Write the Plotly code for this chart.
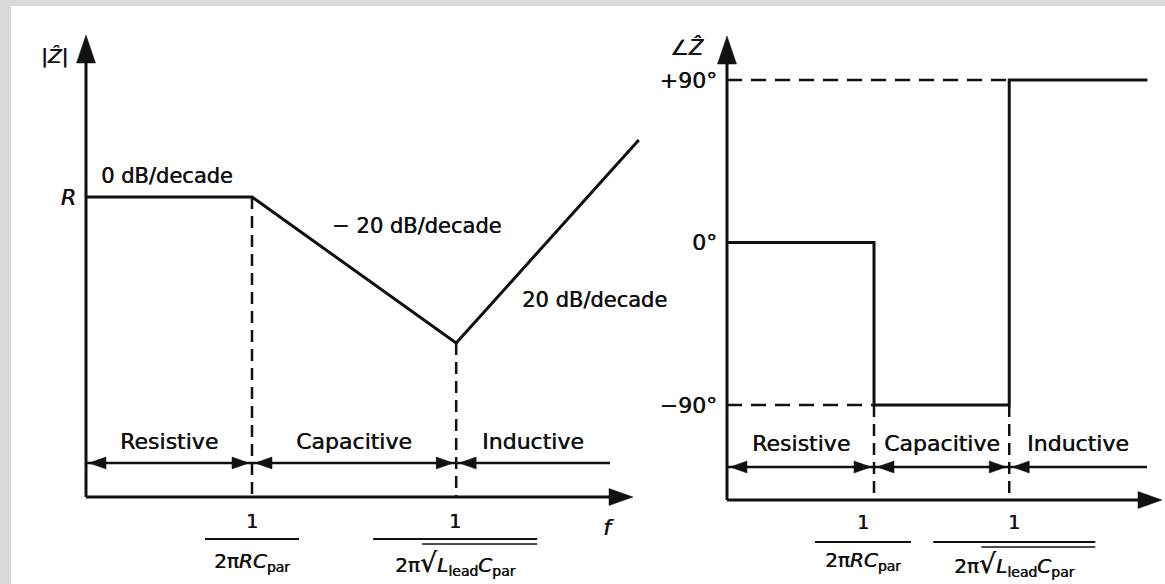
import plotly.graph_objects as go

W, H = 1165, 584
INK = "#111111"
FONT = "DejaVu Sans"
SHADOW = "0.5px 0px 0px #111111"

# ---------------- data ----------------
# Left panel: |Z| asymptotes. Frequency in relative (log) units, level in relative units.
mag_freq = [0.0, 1.0, 2.23, 3.33]
mag_level = [3.0, 3.0, 1.54, 3.57]
mag_tick_vals = [3.0]
mag_tick_text = ["<i>R</i>"]
slope_text = ["0 dB/decade", "\u2212 20 dB/decade", "20 dB/decade"]

# Right panel: phase of Z (degrees) vs relative frequency
phase_freq = [0.0, 1.0, 1.0, 1.92, 1.92, 2.86]
phase_deg = [0, 0, -90, -90, 90, 90]
phase_tick_vals = [90, 0, -90]
phase_tick_text = ["+90\u00b0", "0\u00b0", "\u221290\u00b0"]

region_names = ["Resistive", "Capacitive", "Inductive"]
den_rc = "2\u03c0<i>RC</i><sub>par</sub>"
den_lc = ("2\u03c0<span style='font-size:27px'>\u221a</span>"
          "<i>L</i><sub>lead</sub><i>C</i><sub>par</sub>")

# ---------------- panel geometry (pixels) ----------------
L_X0, L_XU = 86, 166          # left: pixel of f=0, pixels per unit
L_Y0, L_YU = 497, 100         # left: pixel of level 0, pixels per unit
R_X0, R_XU = 727, 147         # right: pixel of f=0, pixels per unit
R_P90, R_M90 = 80, 405        # right: pixels of +90 and -90 degrees
R_ZP = (R_P90 + R_M90) / 2
R_K = 180.0 / (R_M90 - R_P90)  # degrees per pixel


def lx(px):
    return (px - L_X0) / L_XU


def ly(py):
    return (L_Y0 - py) / L_YU


def rx(px):
    return (px - R_X0) / R_XU


def ry(py):
    return (R_ZP - py) * R_K


def fy(py):
    return 1 - py / H


def fx(px):
    return px / W


shapes = []


def seg(x0, y0, x1, y1, xref, yref, width=3, dash=None):
    line = dict(color=INK, width=width)
    if dash:
        line["dash"] = dash
    shapes.append(dict(type="line", xref=xref, yref=yref, x0=x0, y0=y0, x1=x1, y1=y1,
                       line=line, layer="above"))


def head(xa, ya, xref, yref, d, length, width, offset=0.0):
    dx, dy = {"up": (0, 1), "right": (1, 0), "left": (-1, 0)}[d]
    nx, ny = -dy, dx
    tx, ty = dx * offset, dy * offset
    bx, by = tx - dx * length, ty - dy * length
    hw = width / 2
    p = (f"M{tx:.2f},{ty:.2f} L{bx + nx * hw:.2f},{by + ny * hw:.2f} "
         f"L{bx - nx * hw:.2f},{by - ny * hw:.2f} Z")
    shapes.append(dict(type="path", xref=xref, yref=yref, xsizemode="pixel", ysizemode="pixel",
                       xanchor=xa, yanchor=ya, path=p, fillcolor=INK,
                       line=dict(color=INK, width=0.5), layer="above"))


# background: grey frame at left/top, white page
shapes.append(dict(type="rect", xref="paper", yref="paper", x0=fx(11), x1=1, y0=0, y1=fy(6),
                   fillcolor="white", line=dict(width=0), layer="below"))

# ---- left panel axes ----
seg(0, 0, 0, ly(35 + 20), "x", "y")
head(0, ly(35), "x", "y", "up", 28, 19)
seg(0, 0, lx(633 - 16), 0, "x", "y")
head(lx(633), 0, "x", "y", "right", 24, 17)

# ---- right panel axes ----
r_floor = ry(500)
seg(0, r_floor, 0, ry(36 + 20), "x2", "y2")
head(0, ry(36), "x2", "y2", "up", 28, 19)
seg(0, r_floor, rx(1162 - 16), r_floor, "x2", "y2")
head(rx(1162), r_floor, "x2", "y2", "right", 24, 17)

# ---- dashed guides ----
for i in (1, 2):
    seg(mag_freq[i], mag_level[i], mag_freq[i], 0, "x", "y", width=2.5, dash="12px,7px")
r_breaks = [phase_freq[1], phase_freq[3]]
seg(0, phase_deg[4], r_breaks[1], phase_deg[4], "x2", "y2", width=2.5, dash="15px,9px")
seg(0, phase_deg[2], r_breaks[0], phase_deg[2], "x2", "y2", width=2.5, dash="15px,9px")
for b in r_breaks:
    seg(b, phase_deg[2], b, r_floor, "x2", "y2", width=2.5, dash="12px,7px")


# ---- region arrows ----
def region_row(xs, xref, row_py, end_x):
    yv = fy(row_py)
    bounds = [xs[0], xs[1], xs[2], end_x]
    for k in range(3):
        a, b = bounds[k], bounds[k + 1]
        seg(a, yv, b, yv, xref, "paper", width=2.5)
        head(a, yv, xref, "paper", "left", 17, 12, offset=-3)
        if k < 2:
            head(b, yv, xref, "paper", "right", 17, 12, offset=-3)


l_breaks = [mag_freq[1], mag_freq[2]]
region_row([0.0] + l_breaks, "x", 463, lx(610))
region_row([0.0] + r_breaks, "x2", 467, rx(1147))

annotations = []


def text(x, y, s, size=22, xref="paper", yref="paper", xshift=0, xanchor="center"):
    annotations.append(dict(x=x, y=y, xref=xref, yref=yref, text=s, showarrow=False,
                            xanchor=xanchor, yanchor="middle", xshift=xshift,
                            font=dict(family=FONT, size=size, color=INK, shadow=SHADOW)))


# region labels centred between the breaks
l_edges = [0.0] + l_breaks + [lx(610)]
r_edges = [0.0] + r_breaks + [rx(1147)]
for k, name in enumerate(region_names):
    text((l_edges[k] + l_edges[k + 1]) / 2, fy(441), name, xref="x")
    text((r_edges[k] + r_edges[k + 1]) / 2, fy(443), name, xref="x2")

# slope labels
text(fx(167), fy(176), slope_text[0], size=21)
text(fx(416), fy(226), slope_text[1], size=21)
text(fx(594), fy(300), slope_text[2], size=21)

# axis names
text(fx(54), fy(56), "|<i>\u1e90</i>|", size=20)
text(fx(608), fy(527), "<i>f</i>", size=22)
text(fx(687), fy(47), "\u2220<i>\u1e90</i>", size=21)


# fractions under the break frequencies
def fraction(xv, xref, shift, half, num_py, bar_py, den_py, den, vinc=None):
    text(xv, fy(num_py), "1", size=19, xref=xref, xshift=shift)
    shapes.append(dict(type="line", xref=xref, yref="paper", xsizemode="pixel", xanchor=xv,
                       x0=shift - half, x1=shift + half, y0=fy(bar_py), y1=fy(bar_py),
                       line=dict(color=INK, width=2)))
    text(xv, fy(den_py), den, size=20, xref=xref, xshift=shift)
    if vinc:
        shapes.append(dict(type="line", xref=xref, yref="paper", xsizemode="pixel", xanchor=xv,
                           x0=shift + vinc[0], x1=shift + half, y0=fy(bar_py + vinc[1]),
                           y1=fy(bar_py + vinc[1]), line=dict(color=INK, width=1.5)))


fraction(l_breaks[0], "x", 0, 47, 521, 539, 562, den_rc)
fraction(l_breaks[1], "x", -1, 82, 521, 539, 563, den_lc, vinc=(-33, 5))
fraction(r_breaks[0], "x2", -11, 48, 522, 542, 561, den_rc)
fraction(r_breaks[1], "x2", 5, 81, 522, 542, 564, den_lc, vinc=(-33, 5))

fig = go.Figure()
fig.add_trace(go.Scatter(x=mag_freq, y=mag_level, mode="lines", xaxis="x", yaxis="y",
                         line=dict(color=INK, width=3), hoverinfo="skip", showlegend=False))
fig.add_trace(go.Scatter(x=phase_freq, y=phase_deg, mode="lines", xaxis="x2", yaxis="y2",
                         line=dict(color=INK, width=3, shape="linear"), hoverinfo="skip",
                         showlegend=False))

tickfont = dict(family=FONT, size=22, color=INK, shadow=SHADOW)
fig.update_layout(
    width=W, height=H, autosize=False,
    margin=dict(l=0, r=0, t=0, b=0, pad=0),
    paper_bgcolor="#d9d9d9", plot_bgcolor="rgba(0,0,0,0)",
    showlegend=False,
    xaxis=dict(domain=[0, 1], range=[lx(0), lx(W)], visible=False, anchor="y", fixedrange=True),
    yaxis=dict(domain=[0, 1], range=[ly(H), ly(0)], anchor="free", position=fx(L_X0),
               showline=False, showgrid=False, zeroline=False, ticks="",
               tickvals=mag_tick_vals, ticktext=mag_tick_text, tickfont=tickfont,
               ticklabelstandoff=10, fixedrange=True),
    xaxis2=dict(domain=[0, 1], range=[rx(0), rx(W)], visible=False, anchor="y2", fixedrange=True),
    yaxis2=dict(domain=[0, 1], range=[ry(H), ry(0)], anchor="free", position=fx(R_X0),
                showline=False, showgrid=False, zeroline=False, ticks="",
                tickvals=phase_tick_vals, ticktext=phase_tick_text, tickfont=tickfont,
                ticklabelstandoff=10, fixedrange=True),
    shapes=shapes,
    annotations=annotations,
)

fig.write_html("out.html", config={"displayModeBar": False},
               post_script="document.body.style.margin='0';document.body.style.overflow='hidden';")
